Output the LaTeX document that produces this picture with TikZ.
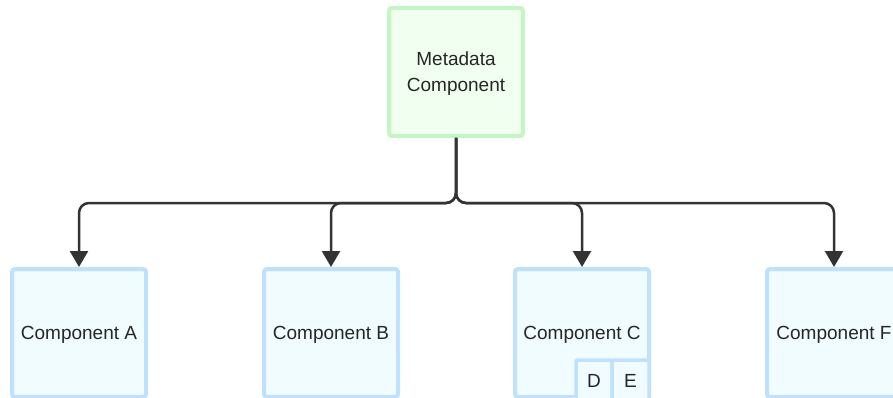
\documentclass[tikz,border=0pt]{standalone}
\usepackage{fontspec}
\setmainfont{Liberation Sans}
\usetikzlibrary{arrows.meta}
\definecolor{gborder}{HTML}{C4F5C4}
\definecolor{gfill}{HTML}{F0FFF0}
\definecolor{bborder}{HTML}{BDE1FF}
\definecolor{bfill}{HTML}{F0FCFF}
\definecolor{lnc}{HTML}{333333}
\begin{document}
\begin{tikzpicture}[x=1pt,y=1pt,
  txt/.style={font=\fontsize{19}{26}\selectfont, text=black!85, align=center, text depth=0pt},
  metabox/.style={txt, draw=gborder, fill=gfill, line width=4pt, rounded corners=3pt, minimum width=134pt, minimum height=128pt, inner sep=0pt},
  compbox/.style={txt, draw=bborder, fill=bfill, line width=4pt, rounded corners=3pt, minimum width=134pt, minimum height=128pt, inner sep=0pt},
  subbox/.style={txt, draw=bborder, fill=bfill, line width=3.5pt, rounded corners=2pt, minimum height=42pt, inner sep=0pt},
  conn/.style={draw=lnc, line width=2.5pt, rounded corners=10pt, -{Triangle[length=16pt,width=18pt]}}
]
\useasboundingbox (0,0) rectangle (893,-398);
\clip (0,0) rectangle (893,-398);
\node[metabox] (meta) at (456,-72) {Metadata\\Component};
\node[compbox] (a) at (79,-333) {Component A};
\node[compbox] (b) at (331,-333) {Component B};
\node[compbox] (c) at (582,-333) {Component C};
\node[compbox] (f) at (834,-333) {Component F};
\node[subbox,minimum width=36pt] (d) at (594,-381) {D};
\node[subbox,minimum width=37pt] (e) at (630.5,-381) {E};
\coordinate (j) at (456,-203);
\draw[conn] (meta.south) -- (j) -- (79,-203) -- (a.north);
\draw[conn] (meta.south) -- (j) -- (331,-203) -- (b.north);
\draw[conn] (meta.south) -- (j) -- (582,-203) -- (c.north);
\draw[conn] (meta.south) -- (j) -- (834,-203) -- (f.north);
\end{tikzpicture}
\end{document}
